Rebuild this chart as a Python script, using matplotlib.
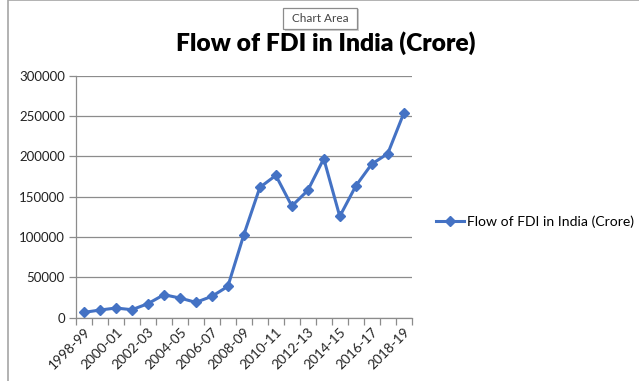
import matplotlib
matplotlib.use("Agg")
import matplotlib.pyplot as plt
from matplotlib.patches import Rectangle
import numpy as np

years = ["1998-99", "1999-00", "2000-01", "2001-02", "2002-03", "2003-04", "2004-05",
         "2005-06", "2006-07", "2007-08", "2008-09", "2009-10", "2010-11", "2011-12",
         "2012-13", "2013-14", "2014-15", "2015-16", "2016-17", "2017-18", "2018-19"]
fdi = [6600, 9500, 12000, 9900, 17400, 28500, 24400, 19000, 26500, 38800, 102900,
       161500, 176400, 138400, 157800, 197100, 125600, 163200, 190500, 203300, 253300]
y_ticks = [0, 50000, 100000, 150000, 200000, 250000, 300000]
title = "Flow of FDI in India (Crore)"
series_name = "Flow of FDI in India (Crore)"

plt.rcParams['font.family'] = ['Lato', 'DejaVu Sans']

W, H = 639, 381
fig = plt.figure(figsize=(W / 100, H / 100), dpi=100)
fig.patch.set_facecolor("white")

def fx(px):
    return px / W

def fy(py):
    return 1 - py / H

# chart area border
fig.add_artist(Rectangle((fx(8), fy(400)), fx(700), 400 / H, transform=fig.transFigure,
                         fill=False, edgecolor="#a6a6a6", linewidth=1.2))

ax = fig.add_axes([fx(76), fy(317.7), fx(411.7) - fx(76), fy(75.7) - fy(317.7)])
x = np.arange(len(years))
line, = ax.plot(x, fdi, color="#4472C4", linewidth=2.2, marker="D", markersize=5,
                markerfacecolor="#4472C4", markeredgecolor="#4472C4", label=series_name)

ax.set_xlim(-0.5, len(years) - 0.5)
ax.set_ylim(0, 300000)
ax.set_yticks(y_ticks)
ax.set_yticklabels([str(v) for v in y_ticks], fontsize=9.5, color="#222222")
ax.yaxis.grid(True, color="#8c8c8c", linewidth=0.9)
ax.set_axisbelow(True)

# category tick marks at boundaries, labels every other category
ax.set_xticks(np.arange(-0.5, len(years), 1.0), minor=True)
ax.set_xticks(x[::2])
ax.set_xticklabels(years[::2], rotation=45, ha="right", rotation_mode="anchor",
                   fontsize=9.8, color="#222222")
ax.tick_params(axis="x", which="major", length=0, pad=6)
ax.tick_params(axis="x", which="minor", length=5, color="#8c8c8c", width=0.9)
ax.tick_params(axis="y", length=5, color="#8c8c8c", width=0.9, pad=3)

for s in ["top", "right"]:
    ax.spines[s].set_visible(False)
for s in ["left", "bottom"]:
    ax.spines[s].set_color("#8c8c8c")
    ax.spines[s].set_linewidth(0.9)

fig.text(fx(326), fy(43), title, ha="center", va="center", fontsize=17.7,
         fontweight="heavy", color="black")

# legend
fig.legend(handles=[line], loc="center left", bbox_to_anchor=(fx(436), fy(222)),
           frameon=False, fontsize=10.1, handlelength=2.0, handletextpad=0.2,
           borderaxespad=0, borderpad=0)

# "Chart Area" tooltip
fig.add_artist(Rectangle((fx(284.5), fy(30.5)), fx(74), 21 / H, transform=fig.transFigure,
                         facecolor="#d0d0d0", edgecolor="none", zorder=9))
fig.add_artist(Rectangle((fx(283), fy(29)), fx(74), 21 / H, transform=fig.transFigure,
                         facecolor="white", edgecolor="#8c8c8c", linewidth=0.9, zorder=10))
fig.text(fx(320), fy(18.5), "Chart Area", ha="center", va="center", fontsize=8.5,
         color="#444444", zorder=11)

fig.savefig("out.png", dpi=100)
